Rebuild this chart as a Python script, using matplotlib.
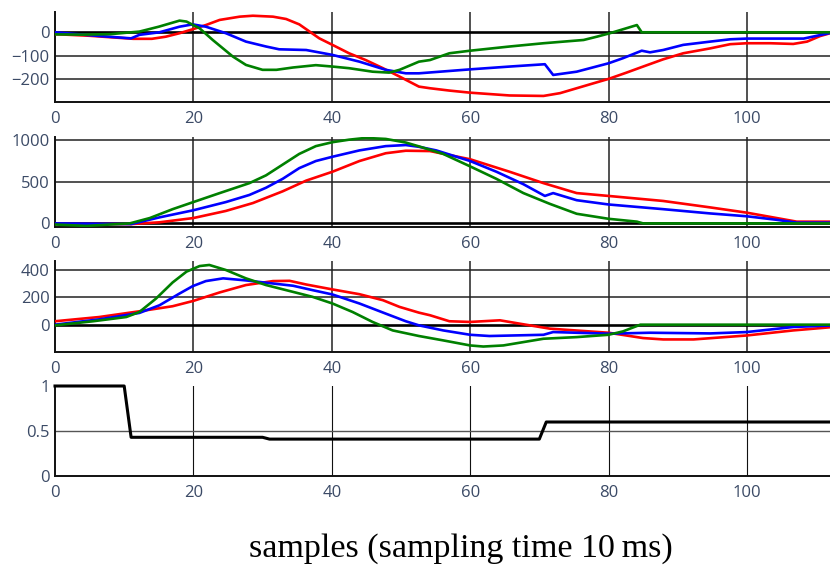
import matplotlib
matplotlib.use("Agg")
import matplotlib.pyplot as plt

plt.rcParams['font.family'] = ['Open Sans', 'DejaVu Sans']

# ---------------- data ----------------
XMAX = 112.3

# panel 1
p1_green_x = [0, 4, 8, 12.2, 15, 18, 19, 20.9, 22.8, 25.7, 27.6, 30, 32, 34.4, 37.7, 40.1, 42.5, 45.9, 48.3,
              49.8, 52.6, 54.2, 57, 60, 65.7, 70.6, 76.4, 78.3, 80.2, 82.1, 84.1, 84.8, 112.5]
p1_green_y = [-9, -10, -8, 3, 24, 50, 46, 17, -33, -104, -140, -161, -161, -151, -141, -147, -154, -169, -173,
              -161, -126, -119, -90, -79, -61, -47, -33, -19, -4, 13, 31, 0, 0]
p1_red_x = [0, 5, 11.3, 14, 16, 18, 19.9, 21.8, 23.8, 26.7, 28.6, 31.5, 33.4, 35.3, 36.8, 38.2, 40.1, 42.5,
            44.9, 47.4, 49.8, 52.6, 54.2, 57, 60, 65.7, 70.6, 73, 75.4, 77.8, 80, 82.6, 85, 87.9, 90.8, 94.7,
            97.6, 100, 103.4, 106.7, 108.7, 110.6, 112.5]
p1_red_y = [-8, -15, -28, -28, -19, -4, 13, 31, 53, 67, 71, 67, 57, 34, 3, -26, -54, -90,
            -119, -154, -190, -233, -240, -250, -259, -271, -273, -261, -240, -219, -200, -173, -147, -116, -90, -69,
            -51, -47, -47, -50, -40, -16, 0]
p1_blue_x = [0, 6.4, 11, 12.2, 15.1, 18, 19.9, 21.8, 24.7, 27.6, 30.5, 32.4, 36.3, 40.1, 44, 47.8, 50.7, 52.6,
             60, 65.7, 70.8, 72, 75.4, 80, 82.1, 84.8, 86, 87.9, 90.8, 94.7, 97.6, 100, 108.2, 112.5]
p1_blue_y = [0, -16, -26, -11, 0, 24, 34, 24, -4, -40, -61, -73, -76, -97, -126, -161, -176, -176,
             -159, -147, -137, -183, -169, -133, -111, -79, -86, -76, -54, -40, -30, -27, -27, 0]

# panel 2
p2_green_x = [0, 4.5, 10.8, 13.7, 17, 20, 23.8, 28.1, 30.5, 32.9, 35.3, 37.7, 40.1, 42.5, 44.9, 47.8, 50.7,
              52.6, 56.1, 60, 63.8, 67.7, 71.5, 75.4, 80, 84.1, 85, 112.5]
p2_green_y = [-13, -30, 0, 64, 170, 255, 362, 481, 574, 702, 830, 923, 970, 1000, 1021, 1009, 966,
              920, 830, 681, 532, 362, 234, 115, 55, 21, 0, 0]
p2_blue_x = [0, 11, 15.1, 20, 24.7, 28.1, 30.5, 32.9, 35.3, 37.7, 40.1, 44, 47.8, 50.7, 52.6, 55.1, 60, 63.8,
             67.7, 70.8, 72, 75.4, 80, 87.9, 94.7, 100, 104.3, 107.2, 112.5]
p2_blue_y = [0, -8, 72, 157, 255, 340, 426, 532, 660, 745, 796, 872, 923, 936, 915, 872, 745, 617,
             468, 328, 362, 277, 226, 170, 119, 85, 43, 9, 9]
p2_red_x = [0, 11, 15.1, 20, 24.7, 28.6, 32.9, 36.3, 40.1, 44, 47.8, 50.7, 54.2, 60, 65.7, 70.6, 75.4, 80,
            87.9, 94.7, 100, 104.3, 107.2, 112.5]
p2_red_y = [-8, -8, 13, 64, 149, 243, 383, 511, 617, 745, 838, 868, 864, 766, 617, 481, 362, 328,
            268, 191, 128, 64, 21, 21]

# panel 3
p3_green_x = [0, 5.5, 10.3, 12.2, 14.6, 17, 19, 20.9, 22.3, 24.7, 27.6, 30.5, 34.4, 37.2, 40.1, 43, 45.9,
              48.8, 52.6, 56.1, 60, 61.9, 64.8, 70.6, 75.4, 80, 82.1, 84.6, 112.5]
p3_green_y = [-5, 25, 56, 93, 191, 309, 388, 429, 437, 400, 339, 290, 240, 204, 155, 93, 20,
              -42, -83, -115, -152, -160, -152, -103, -91, -74, -49, 0, 0]
p3_blue_x = [0, 6.4, 12.2, 15.1, 18, 19.9, 21.8, 24.3, 27.6, 30.5, 34.4, 37.2, 40.1, 44, 47.8, 50.7, 52.6,
             56.1, 60, 62.8, 70.6, 72, 80, 86, 94.7, 100, 106.7, 112.5]
p3_blue_y = [0, 39, 86, 142, 228, 282, 319, 339, 324, 307, 285, 253, 221, 155, 81, 25, -5,
             -42, -74, -83, -74, -54, -66, -59, -64, -54, -17, -5]
p3_red_x = [0, 6.4, 12.2, 17, 20, 23.8, 27.6, 31.5, 33.9, 36.3, 40.1, 44, 47.4, 49.8, 52.6, 54.2, 57, 60,
            64.3, 67.2, 71.5, 80, 85, 87.9, 92.3, 100, 106.7, 112.5]
p3_red_y = [25, 56, 98, 135, 174, 236, 290, 319, 321, 294, 258, 223, 179, 130, 88, 69, 25, 20,
            32, 7, -29, -59, -98, -108, -108, -79, -42, -17]

# panel 4
p4_x = [0, 10, 11, 30, 31, 70, 71, 112.5]
p4_y = [1, 1, 0.43, 0.43, 0.41, 0.41, 0.6, 0.6]

x_ticks = [0, 20, 40, 60, 80, 100]
p1_yticks = [0, -100, -200]
p2_yticks = [0, 500, 1000]
p3_yticks = [0, 200, 400]
p4_yticks = [0, 0.5, 1]
p4_yticklabels = ["0", "0.5", "1"]

# ---------------- figure ----------------
W, H = 830, 565
fig = plt.figure(figsize=(W / 100, H / 100), dpi=100)
TICK_COLOR = "#3b4a66"
FS = 12


def px_axes(top, bottom, left=55, right=832):
    return fig.add_axes([left / W, 1 - bottom / H, (right - left) / W, (bottom - top) / H])


def style(ax, ylim, yticks, yticklabels=None, grid_lw=1.1, grid_color="#222222"):
    ax.set_xlim(0, XMAX)
    ax.set_ylim(*ylim)
    ax.set_xticks(x_ticks)
    ax.set_yticks(yticks)
    if yticklabels is not None:
        ax.set_yticklabels(yticklabels)
    for s in ["top", "right"]:
        ax.spines[s].set_visible(False)
    for s in ["left", "bottom"]:
        ax.spines[s].set_color("#111111")
        ax.spines[s].set_linewidth(1.4)
    ax.tick_params(length=0, labelsize=FS, colors=TICK_COLOR)
    ax.tick_params(axis="x", pad=6.5)
    ax.tick_params(axis="y", pad=4)
    for t in x_ticks[1:]:
        ax.axvline(t, color=grid_color, lw=grid_lw, zorder=1)
    return ax


LW = 1.9
ax1 = px_axes(12, 102)
style(ax1, (-299, 87), p1_yticks)
for v in p1_yticks[1:]:
    ax1.axhline(v, color="#222222", lw=1.1, zorder=1)
ax1.plot([0, XMAX + 1], [0, 0], color="black", lw=1.9, zorder=2)
ax1.plot(p1_red_x, p1_red_y, color="red", lw=LW, zorder=3)
ax1.plot(p1_blue_x, p1_blue_y, color="blue", lw=LW, zorder=4)
ax1.plot(p1_green_x, p1_green_y, color="green", lw=LW, zorder=5)

ax2 = px_axes(137, 227)
style(ax2, (-43, 1032), p2_yticks)
for v in p2_yticks[1:]:
    ax2.axhline(v, color="#222222", lw=1.1, zorder=1)
ax2.plot([0, XMAX + 1], [0, 0], color="black", lw=1.9, zorder=2)
ax2.plot(p2_red_x, p2_red_y, color="red", lw=LW, zorder=3)
ax2.plot(p2_blue_x, p2_blue_y, color="blue", lw=LW, zorder=4)
ax2.plot(p2_green_x, p2_green_y, color="green", lw=LW, zorder=5)

ax3 = px_axes(261, 352)
style(ax3, (-200, 466), p3_yticks)
for v in p3_yticks[1:]:
    ax3.axhline(v, color="#222222", lw=1.1, zorder=1)
ax3.plot([0, XMAX + 1], [0, 0], color="black", lw=1.9, zorder=2)
ax3.plot(p3_red_x, p3_red_y, color="red", lw=LW, zorder=3)
ax3.plot(p3_blue_x, p3_blue_y, color="blue", lw=LW, zorder=4)
ax3.plot(p3_green_x, p3_green_y, color="green", lw=LW, zorder=5)

ax4 = px_axes(386, 476)
style(ax4, (0, 1.0), p4_yticks, p4_yticklabels, grid_lw=0.8, grid_color="#111111")
ax4.axhline(0.5, color="#555555", lw=1.0, zorder=1)
ax4.plot(p4_x, p4_y, color="black", lw=2.2, zorder=3, clip_on=False)

fig.text(461 / W, 1 - 549 / H, "samples (sampling time 10\u2009ms)", ha="center", va="center",
         fontsize=24.5, family=["Liberation Serif", "DejaVu Serif"], color="black")

fig.savefig("out.png", dpi=100)
